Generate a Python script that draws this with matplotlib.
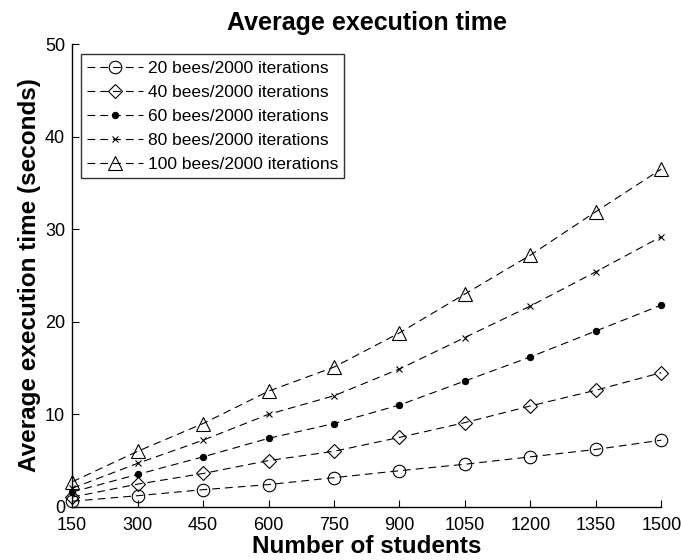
import matplotlib
matplotlib.use("Agg")
import matplotlib.pyplot as plt

students = [150, 300, 450, 600, 750, 900, 1050, 1200, 1350, 1500]
bees20 = [0.6, 1.2, 1.85, 2.4, 3.15, 3.9, 4.6, 5.4, 6.2, 7.2]
bees40 = [1.05, 2.45, 3.6, 5.0, 6.0, 7.5, 9.1, 10.9, 12.6, 14.5]
bees60 = [1.6, 3.5, 5.4, 7.4, 9.0, 11.0, 13.6, 16.2, 19.0, 21.8]
bees80 = [2.0, 4.7, 7.2, 10.0, 12.0, 14.9, 18.3, 21.7, 25.4, 29.2]
bees100 = [2.7, 6.0, 9.0, 12.5, 15.1, 18.8, 23.0, 27.2, 31.9, 36.5]
labels = ["20 bees/2000 iterations", "40 bees/2000 iterations",
          "60 bees/2000 iterations", "80 bees/2000 iterations",
          "100 bees/2000 iterations"]
xticks = [150, 300, 450, 600, 750, 900, 1050, 1200, 1350, 1500]
yticks = [0, 10, 20, 30, 40, 50]

plt.rcParams['font.family'] = ['Liberation Sans', 'DejaVu Sans']

fig = plt.figure(figsize=(6.81, 5.6), dpi=100)
ax = fig.add_axes([0.106, 0.095, 0.865, 0.826])

series = [bees20, bees40, bees60, bees80, bees100]
styles = [
    dict(marker='o', markersize=9),
    dict(marker='D', markersize=7),
    dict(marker='o', markersize=4.5, markerfacecolor='black'),
    dict(marker='x', markersize=5),
    dict(marker='^', markersize=10),
]
for ys, lab, st in zip(series, labels, styles):
    st = dict(st)
    st.setdefault('markerfacecolor', 'none')
    ax.plot(students, ys, linestyle=(0, (7, 4.5)), color='black', linewidth=0.8,
            markeredgecolor='black', markeredgewidth=0.8, label=lab, clip_on=False, **st)

ax.set_xlim(150, 1500)
ax.set_ylim(0, 50)
ax.set_xticks(xticks)
ax.set_yticks(yticks)
ax.tick_params(direction='in', labelsize=13, length=5, width=0.8)
ax.tick_params(axis='x', pad=7)
ax.tick_params(axis='y', pad=5)
for s in ['top', 'right']:
    ax.spines[s].set_visible(False)
for s in ['left', 'bottom']:
    ax.spines[s].set_linewidth(1.0)

ax.set_title("Average execution time", fontsize=18, fontweight='bold', pad=10)
ax.set_xlabel("Number of students", fontsize=17.5, fontweight='bold', labelpad=1)
ax.set_ylabel("Average execution time (seconds)", fontsize=17.5, fontweight='bold', labelpad=3)

leg = ax.legend(loc='upper left', bbox_to_anchor=(0.015, 0.978), fontsize=12.5,
                frameon=True, fancybox=False, edgecolor='black', handlelength=3.2,
                borderpad=0.35, labelspacing=0.52, handletextpad=0.3, borderaxespad=0)
leg.get_frame().set_linewidth(1.0)

fig.savefig("out.png", dpi=100)
